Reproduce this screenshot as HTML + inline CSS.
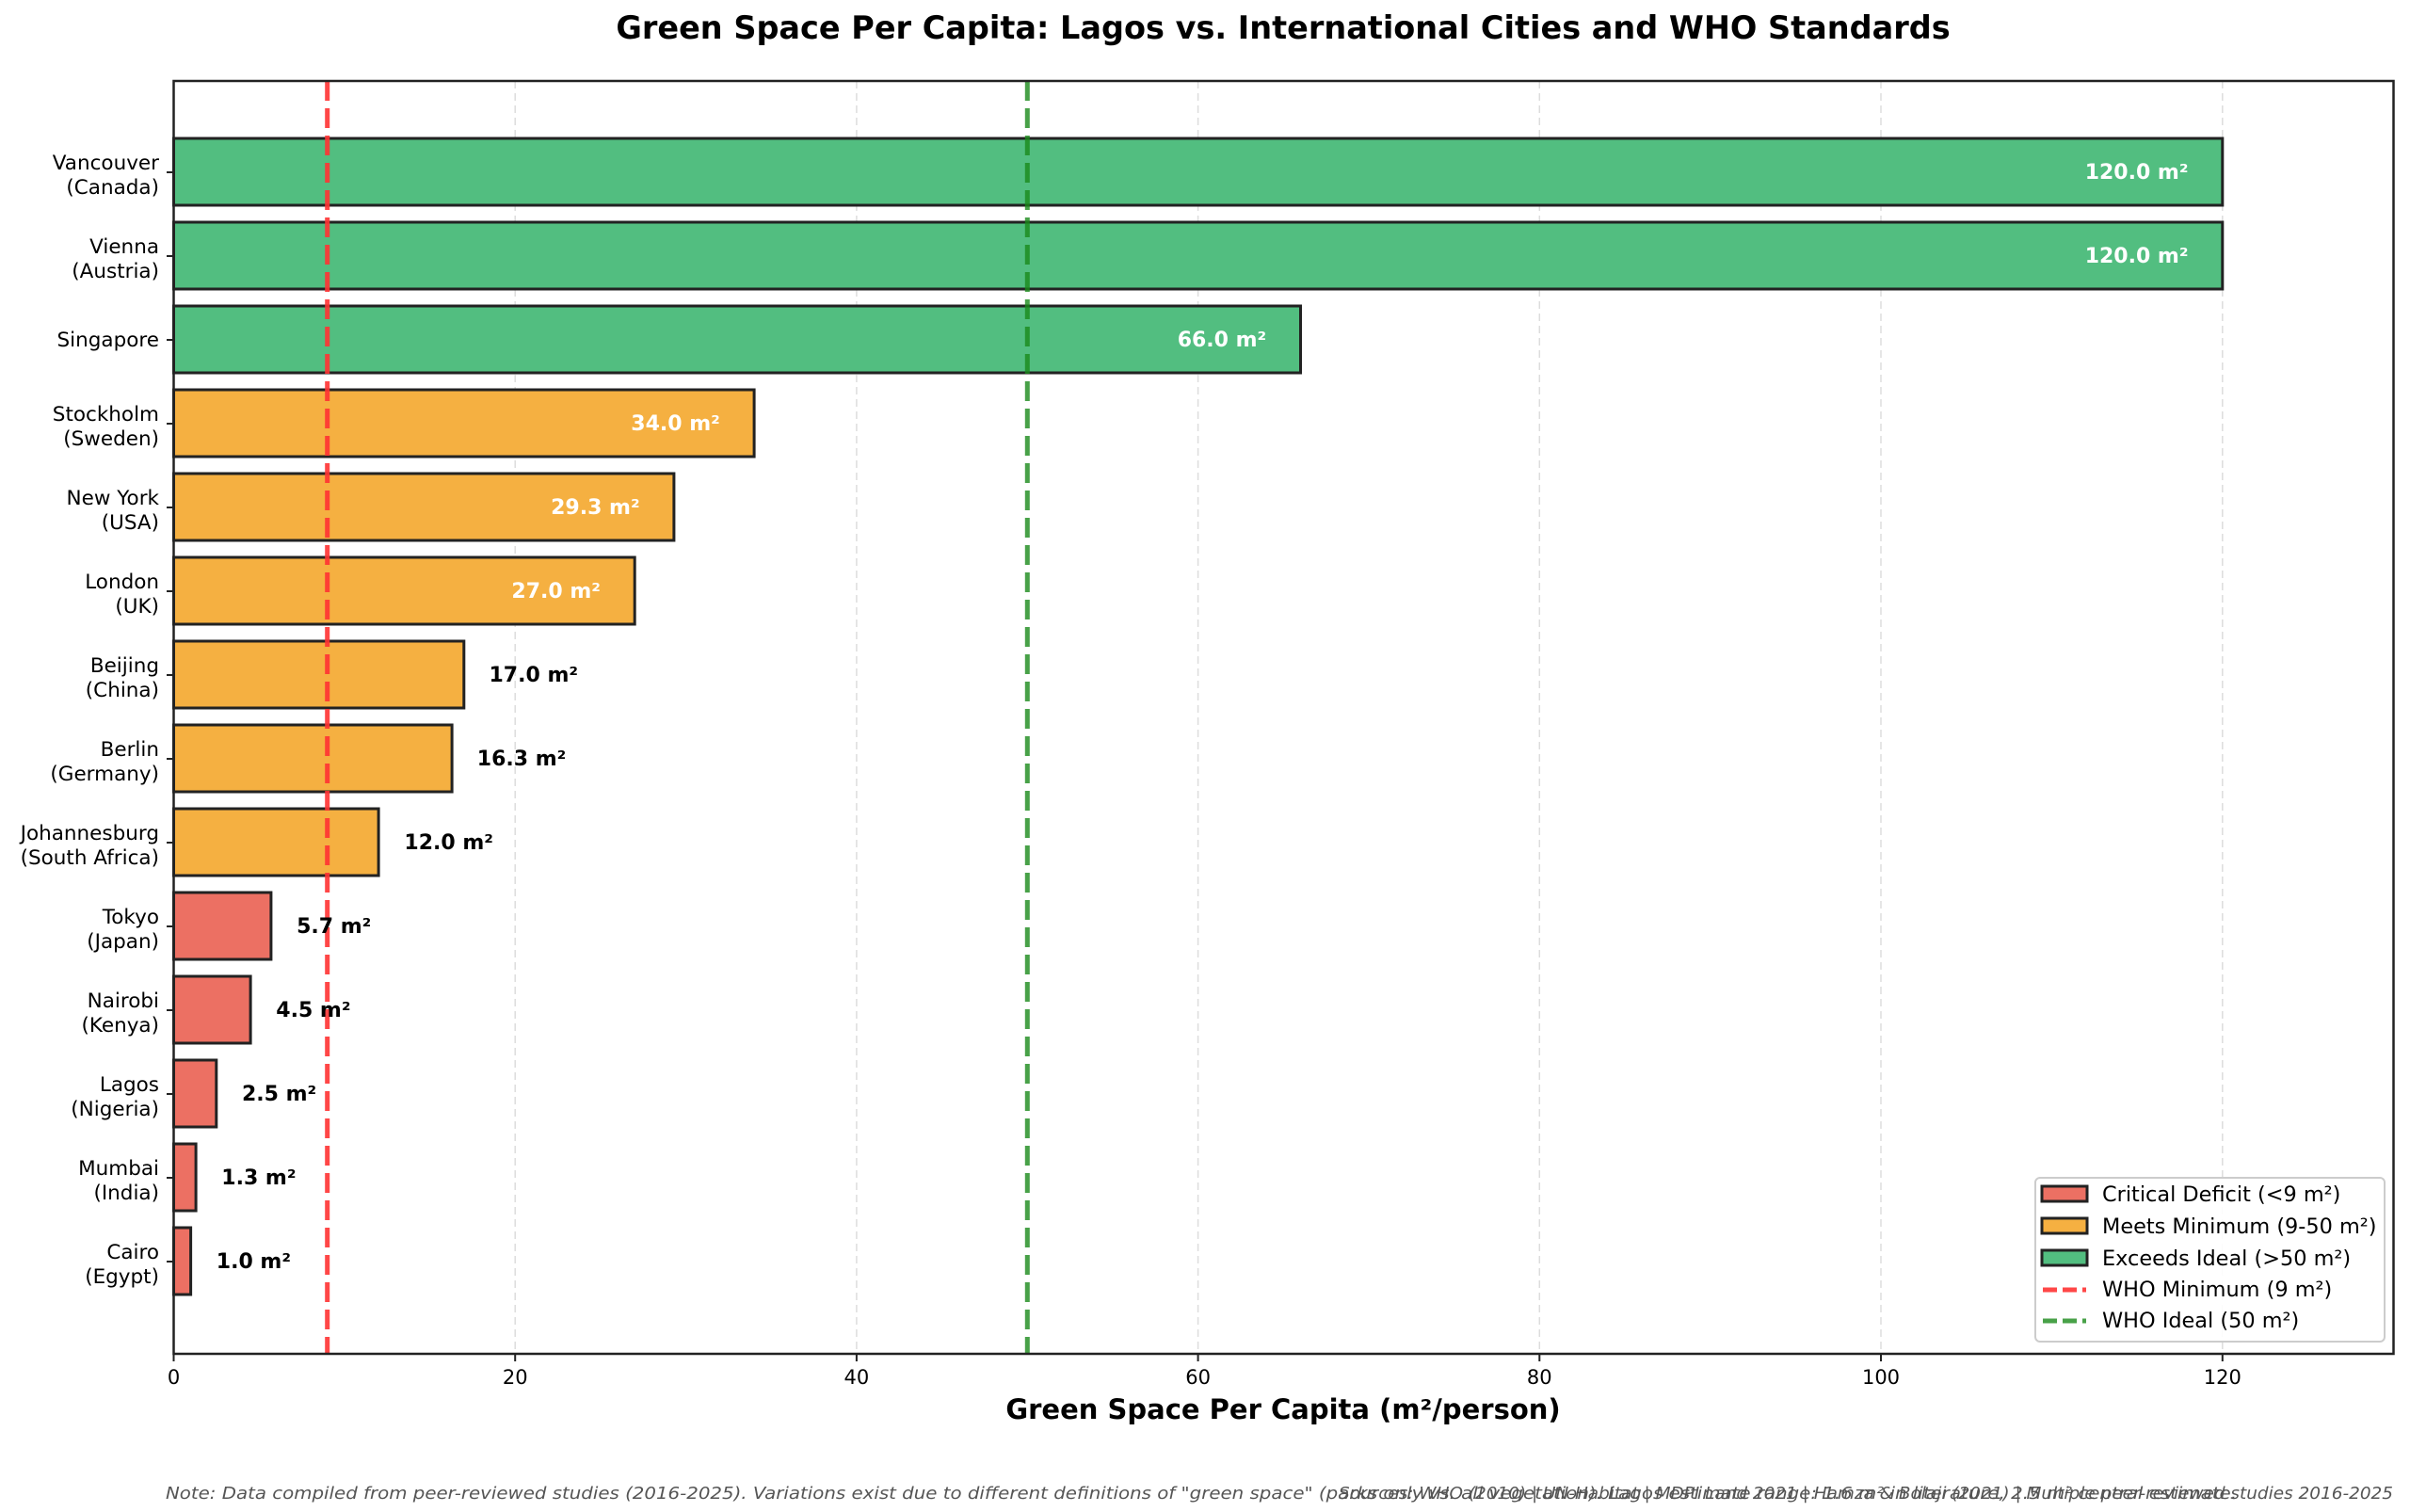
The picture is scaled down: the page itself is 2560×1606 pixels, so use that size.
<!DOCTYPE html>
<html><head><meta charset="utf-8"><style>body{margin:0;background:#fff}svg{display:block}</style></head><body>
<svg width="2560" height="1606" xmlns="http://www.w3.org/2000/svg" font-family="'DejaVu Sans', 'Liberation Sans', sans-serif">
<rect width="2560" height="1606" fill="#fff"/>
<text x="1363" y="41" text-anchor="middle" font-size="33.5" font-weight="bold">Green Space Per Capita: Lagos vs. International Cities and WHO Standards</text>
<g stroke="#ddd" stroke-width="1.5" stroke-dasharray="8,5">
<line x1="547.2" y1="86" x2="547.2" y2="1438"/><line x1="909.9" y1="86" x2="909.9" y2="1438"/><line x1="1272.6" y1="86" x2="1272.6" y2="1438"/><line x1="1635.3" y1="86" x2="1635.3" y2="1438"/><line x1="1998" y1="86" x2="1998" y2="1438"/><line x1="2360.8" y1="86" x2="2360.8" y2="1438"/>
</g>
<g stroke="#222" stroke-width="3">
<rect x="184.5" y="147" width="2176.3" height="71" fill="#52be80"/>
<rect x="184.5" y="236" width="2176.3" height="71" fill="#52be80"/>
<rect x="184.5" y="325" width="1197" height="71" fill="#52be80"/>
<rect x="184.5" y="414" width="616.6" height="71" fill="#f5b041"/>
<rect x="184.5" y="503" width="531.4" height="71" fill="#f5b041"/>
<rect x="184.5" y="592" width="489.7" height="71" fill="#f5b041"/>
<rect x="184.5" y="681" width="308.3" height="71" fill="#f5b041"/>
<rect x="184.5" y="770" width="295.6" height="71" fill="#f5b041"/>
<rect x="184.5" y="859" width="217.6" height="71" fill="#f5b041"/>
<rect x="184.5" y="948" width="103.4" height="71" fill="#ec7063"/>
<rect x="184.5" y="1037" width="81.6" height="71" fill="#ec7063"/>
<rect x="184.5" y="1126" width="45.3" height="71" fill="#ec7063"/>
<rect x="184.5" y="1215" width="23.6" height="71" fill="#ec7063"/>
<rect x="184.5" y="1304" width="18.1" height="71" fill="#ec7063"/>
</g>
<line x1="347.7" y1="86" x2="347.7" y2="1438" stroke="#ff3333" stroke-opacity="0.9" stroke-width="5" stroke-dasharray="21,8"/>
<line x1="1091.3" y1="86" x2="1091.3" y2="1438" stroke="#1a8a1a" stroke-opacity="0.8" stroke-width="5" stroke-dasharray="21,8"/>
<g font-size="22" font-weight="bold" fill="#fff" text-anchor="end">
<text x="2324.5" y="190">120.0 m²</text><text x="2324.5" y="279">120.0 m²</text><text x="1345.2" y="368">66.0 m²</text><text x="764.8" y="457">34.0 m²</text><text x="679.6" y="546">29.3 m²</text><text x="637.9" y="635">27.0 m²</text>
</g>
<g font-size="22" font-weight="bold" fill="#000">
<text x="519.5" y="724">17.0 m²</text><text x="506.8" y="813">16.3 m²</text><text x="429.4" y="902">12.0 m²</text><text x="315.1" y="991">5.7 m²</text><text x="293.3" y="1080">4.5 m²</text><text x="257" y="1169">2.5 m²</text><text x="235.3" y="1258">1.3 m²</text><text x="229.8" y="1347">1.0 m²</text>
</g>
<rect x="184.5" y="86" width="2358" height="1352" fill="none" stroke="#222" stroke-width="2.5"/>
<g stroke="#222" stroke-width="2">
<line x1="184.5" y1="1438" x2="184.5" y2="1446"/><line x1="547.2" y1="1438" x2="547.2" y2="1446"/><line x1="909.9" y1="1438" x2="909.9" y2="1446"/><line x1="1272.6" y1="1438" x2="1272.6" y2="1446"/><line x1="1635.3" y1="1438" x2="1635.3" y2="1446"/><line x1="1998" y1="1438" x2="1998" y2="1446"/><line x1="2360.8" y1="1438" x2="2360.8" y2="1446"/>
</g>
<g font-size="21" text-anchor="middle">
<text x="184.5" y="1470">0</text><text x="547.2" y="1470">20</text><text x="909.9" y="1470">40</text><text x="1272.6" y="1470">60</text><text x="1635.3" y="1470">80</text><text x="1998" y="1470">100</text><text x="2360.8" y="1470">120</text>
</g>
<text x="1363" y="1507" text-anchor="middle" font-size="29" font-weight="bold">Green Space Per Capita (m²/person)</text>
<g stroke="#222" stroke-width="2">
<line x1="177" y1="183" x2="184.5" y2="183"/><line x1="177" y1="272" x2="184.5" y2="272"/><line x1="177" y1="361" x2="184.5" y2="361"/><line x1="177" y1="450" x2="184.5" y2="450"/><line x1="177" y1="539" x2="184.5" y2="539"/><line x1="177" y1="628" x2="184.5" y2="628"/><line x1="177" y1="717" x2="184.5" y2="717"/><line x1="177" y1="806" x2="184.5" y2="806"/><line x1="177" y1="895" x2="184.5" y2="895"/><line x1="177" y1="984" x2="184.5" y2="984"/><line x1="177" y1="1073" x2="184.5" y2="1073"/><line x1="177" y1="1162" x2="184.5" y2="1162"/><line x1="177" y1="1251" x2="184.5" y2="1251"/><line x1="177" y1="1340" x2="184.5" y2="1340"/>
</g>
<g font-size="21.5" text-anchor="end">
<text x="169" y="180">Vancouver</text><text x="169" y="206">(Canada)</text>
<text x="169" y="269">Vienna</text><text x="169" y="295">(Austria)</text>
<text x="169" y="368">Singapore</text>
<text x="169" y="447">Stockholm</text><text x="169" y="473">(Sweden)</text>
<text x="169" y="536">New York</text><text x="169" y="562">(USA)</text>
<text x="169" y="625">London</text><text x="169" y="651">(UK)</text>
<text x="169" y="714">Beijing</text><text x="169" y="740">(China)</text>
<text x="169" y="803">Berlin</text><text x="169" y="829">(Germany)</text>
<text x="169" y="892">Johannesburg</text><text x="169" y="918">(South Africa)</text>
<text x="169" y="981">Tokyo</text><text x="169" y="1007">(Japan)</text>
<text x="169" y="1070">Nairobi</text><text x="169" y="1096">(Kenya)</text>
<text x="169" y="1159">Lagos</text><text x="169" y="1185">(Nigeria)</text>
<text x="169" y="1248">Mumbai</text><text x="169" y="1274">(India)</text>
<text x="169" y="1337">Cairo</text><text x="169" y="1363">(Egypt)</text>
</g>
<rect x="2162" y="1251" width="371" height="174" rx="5" fill="#fff" fill-opacity="0.9" stroke="#ccc" stroke-width="2"/>
<g stroke="#222" stroke-width="3">
<rect x="2169" y="1260" width="48" height="16" fill="#ec7063"/>
<rect x="2169" y="1294" width="48" height="16" fill="#f5b041"/>
<rect x="2169" y="1328" width="48" height="16" fill="#52be80"/>
</g>
<line x1="2170" y1="1370" x2="2216" y2="1370" stroke="#ff3333" stroke-opacity="0.9" stroke-width="5" stroke-dasharray="15,6"/>
<line x1="2170" y1="1403" x2="2216" y2="1403" stroke="#1a8a1a" stroke-opacity="0.8" stroke-width="5" stroke-dasharray="15,6"/>
<g font-size="22.4">
<text x="2233" y="1276">Critical Deficit (&lt;9 m²)</text>
<text x="2233" y="1310">Meets Minimum (9-50 m²)</text>
<text x="2233" y="1344">Exceeds Ideal (&gt;50 m²)</text>
<text x="2233" y="1377">WHO Minimum (9 m²)</text>
<text x="2233" y="1410">WHO Ideal (50 m²)</text>
</g>
<g font-size="18" font-style="italic" fill="#555">
<text x="176" y="1592" textLength="2200" lengthAdjust="spacingAndGlyphs">Note: Data compiled from peer-reviewed studies (2016-2025). Variations exist due to different definitions of "green space" (parks only vs. all vegetation). Lagos estimate range: 1.6 m² in literature, 2.5 m² central estimate.</text>
<text x="2542" y="1592" text-anchor="end" textLength="1120" lengthAdjust="spacingAndGlyphs">Sources: WHO (2010) | UN-Habitat | MDPI Land 2021 | Hamza &amp; Bolaji (2021) | Multiple peer-reviewed studies 2016-2025</text>
</g>
</svg>
</body></html>
